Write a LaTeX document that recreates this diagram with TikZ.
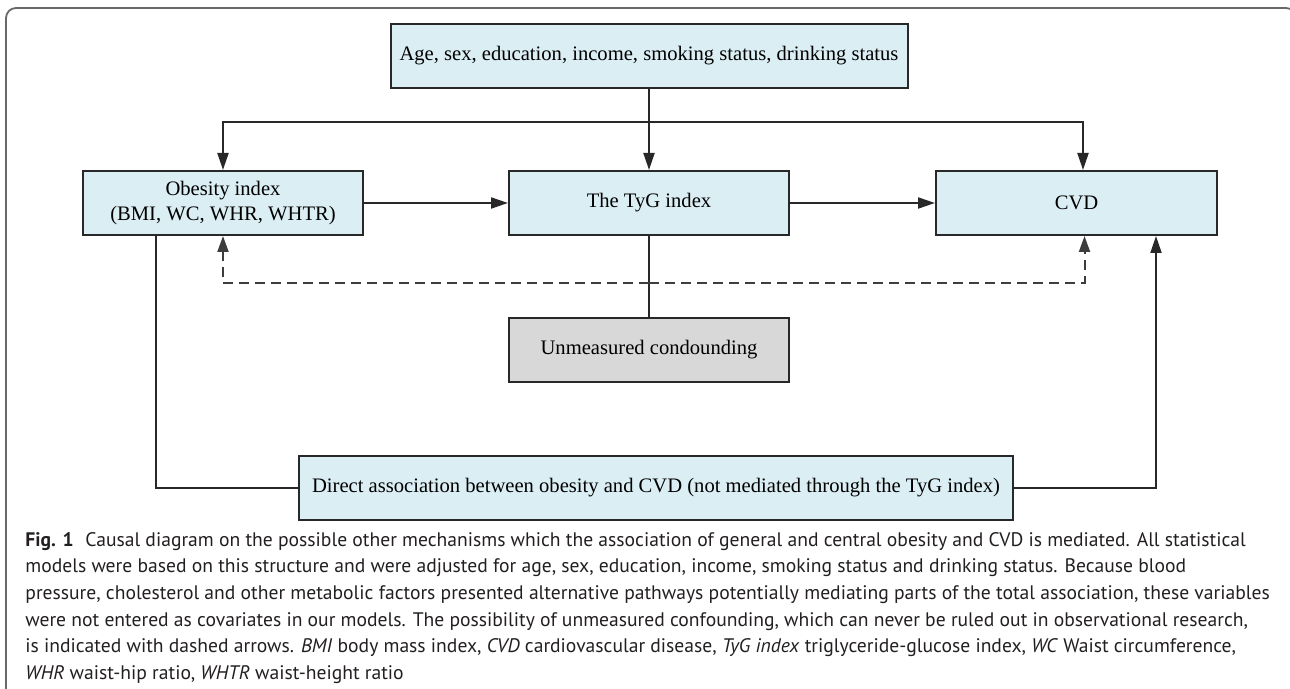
\documentclass[tikz,border=0pt]{standalone}
\usepackage{fontspec}
\setmainfont{Liberation Serif}
\newfontfamily\capfont{PT Sans}
\usetikzlibrary{arrows.meta,positioning}
\definecolor{boxblue}{RGB}{219,238,244}
\definecolor{boxgray}{RGB}{216,216,216}
\definecolor{lineblack}{RGB}{40,40,40}
\definecolor{framegray}{RGB}{105,105,105}
\definecolor{captext}{RGB}{35,31,32}
\tikzset{
  causalbox/.style={
    draw=lineblack,
    line width=1pt,
    fill=boxblue,
    align=center,
    inner sep=0pt,
    minimum height=32pt,
    font=\fontsize{10.3}{12.2}\selectfont
  },
  causalarrow/.style={
    -{Triangle[length=8.5pt,width=5.5pt]},
    line width=1pt,
    draw=lineblack
  },
  causalline/.style={
    line width=1pt,
    draw=lineblack
  },
  confarrow/.style={
    -{Triangle[length=8pt,width=5.5pt]},
    line width=1pt,
    draw=lineblack!90,
    dash pattern=on 5pt off 3pt
  }
}

\begin{document}
\begin{tikzpicture}[x=0.5pt, y=-0.5pt]
  \useasboundingbox (0,0) rectangle (1290,689);
  \clip (0,0) rectangle (1290,689);
  \draw[framegray, line width=0.9pt, rounded corners=5pt] (6,8) rectangle (1296,702);

  \node[causalbox, minimum width=258.5pt] (covar) at (649,56) {Age, sex, education, income, smoking status, drinking status};
  \node[causalbox, minimum width=140pt] (obes) at (223,203) {Obesity index\\(BMI, WC, WHR, WHTR)};
  \node[causalbox, minimum width=140pt] (tyg) at (649,203) {The TyG index};
  \node[causalbox, minimum width=140.5pt] (cvd) at (1076.5,203) {CVD};
  \node[causalbox, minimum width=140pt, fill=boxgray] (unmeas) at (649,350) {Unmeasured condounding};
  \node[causalbox, minimum width=357pt] (direct) at (656,488) {Direct association between obesity and CVD (not mediated through the TyG index)};

  \coordinate (split) at (649,122);
  \coordinate (conf) at (649,283);

  \draw[causalarrow] (covar.south) -- (tyg.north);
  \draw[causalarrow] (split) -| (obes.north);
  \draw[causalarrow] (split) -| ([xshift=3.25pt]cvd.north);
  \draw[causalarrow] (obes) -- (tyg);
  \draw[causalarrow] (tyg) -- (cvd);
  \draw[causalline] (tyg.south) -- (unmeas.north);
  \draw[confarrow] (conf) -| (obes.south);
  \draw[confarrow] (conf) -| ([xshift=4pt]cvd.south);
  \draw[causalline] ([xshift=-33.5pt]obes.south) |- (direct.west);
  \draw[causalarrow] (direct.east) -| ([xshift=39.75pt]cvd.south);

  \node[anchor=north west, align=left, inner sep=0pt, text=captext,
    font=\capfont\fontsize{9.8}{13.3}\selectfont] (caption) at (25,532)
    {\textbf{Fig. 1}\hspace{0.6em}Causal diagram on the possible other mechanisms which the association of general and central obesity and CVD is mediated. All statistical\\
     models were based on this structure and were adjusted for age, sex, education, income, smoking status and drinking status. Because blood\\
     pressure, cholesterol and other metabolic factors presented alternative pathways potentially mediating parts of the total association, these variables\\
     were not entered as covariates in our models. The possibility of unmeasured confounding, which can never be ruled out in observational research,\\
     is indicated with dashed arrows. \textit{BMI} body mass index, \textit{CVD} cardiovascular disease, \textit{TyG index} triglyceride-glucose index, \textit{WC} Waist circumference,\\
     \textit{WHR} waist-hip ratio, \textit{WHTR} waist-height ratio};
\end{tikzpicture}
\end{document}
